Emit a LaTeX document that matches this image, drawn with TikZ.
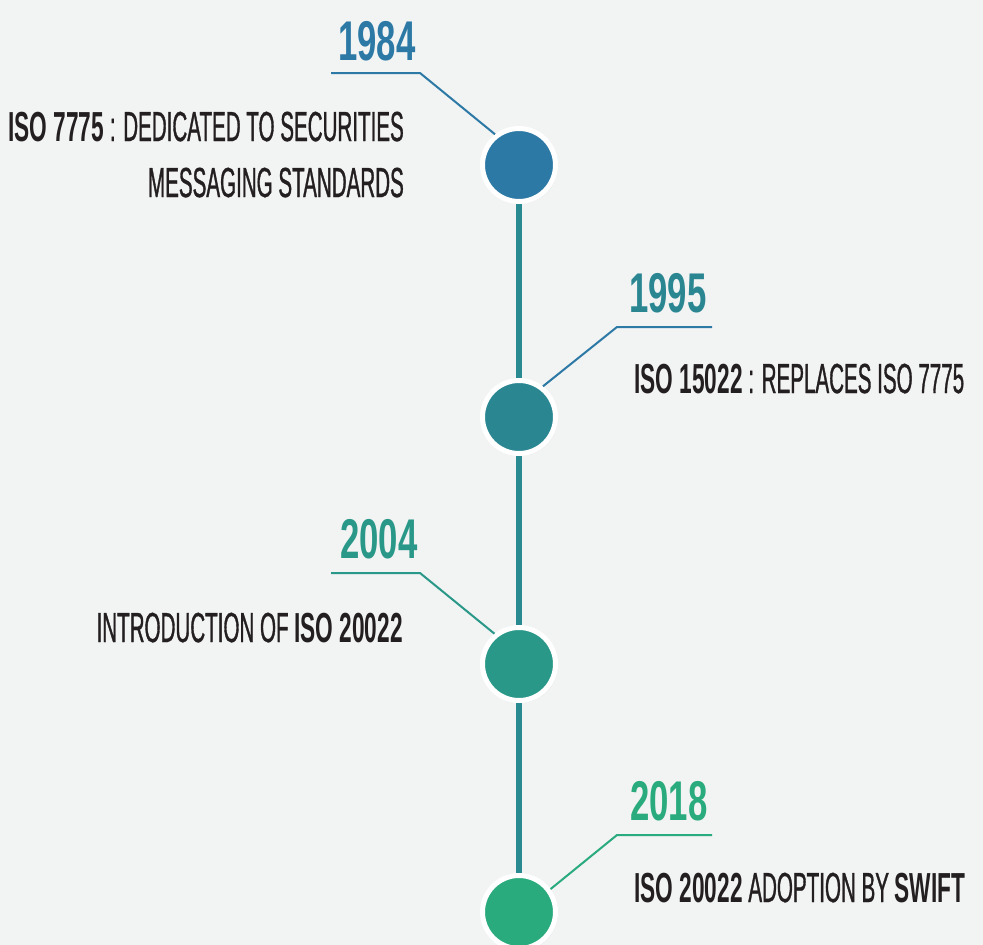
\documentclass[tikz,border=0pt]{standalone}
\usepackage{fontspec}
\setmainfont{Liberation Sans}[UprightFeatures={FakeStretch=0.49, FakeBold=0.8},
	BoldFeatures={FakeStretch=0.54}]
\newfontfamily\yearfont{Liberation Sans}[FakeStretch=0.62]
\usetikzlibrary{positioning,shadows}
\definecolor{bg}{HTML}{F2F3F3}
\definecolor{ink}{HTML}{231F20}
\definecolor{spine}{HTML}{2A8A92}
\definecolor{c1984}{HTML}{2C79A5}
\definecolor{c1995}{HTML}{2A8792}
\definecolor{c2004}{HTML}{2A9888}
\definecolor{c2018}{HTML}{2AAB7E}
\tikzset{
	tl_dot/.style = {circle, draw=white, line width=5pt, minimum size=73pt,
		inner sep=0pt, drop shadow={opacity=0.12, shadow xshift=2pt,
		shadow yshift=-2pt}},% point de la frise
	tl_year/.style = {inner sep=0pt, anchor=base,
		font=\yearfont\bfseries\fontsize{56}{56}\selectfont},% annee
	tl_text/.style = {inner sep=0pt, text=ink,
		font=\fontsize{42}{56}\selectfont},% texte
	tl_lead/.style = {line width=2pt},% trait vers le point
	tl_spine/.style = {line width=6pt, draw=spine}% axe vertical
}
\begin{document}
\begin{tikzpicture}[x=1pt,y=-1pt]
\fill[bg] (0,0) rectangle (983,945);
\clip (0,0) rectangle (983,945);
\useasboundingbox (0,0) rectangle (983,945);
% axe
\coordinate (bottom) at (519,990);
\draw[tl_spine] (519,165) -- (bottom);
% points
\node[tl_dot, fill=c1984] (d1984) at (519,165) {};
\node[tl_dot, fill=c1995] (d1995) at (519,417) {};
\node[tl_dot, fill=c2004] (d2004) at (519,664) {};
\node[tl_dot, fill=c2018] (d2018) at (519,912) {};
% traits
\coordinate (a1984) at (331,73);  \coordinate (b1984) at (420,73);
\coordinate (a1995) at (712,327); \coordinate (b1995) at (617,327);
\coordinate (a2004) at (331,573); \coordinate (b2004) at (420,573);
\coordinate (a2018) at (712,835); \coordinate (b2018) at (617,835);
\draw[tl_lead, c1984] (a1984) -- (b1984) -- (d1984.128);
\draw[tl_lead, c1984] (a1995) -- (b1995) -- (d1995.52);
\draw[tl_lead, c2004] (a2004) -- (b2004) -- (d2004.129);
\draw[tl_lead, c2018] (a2018) -- (b2018) -- (d2018.36);
% annees
\node[tl_year, text=c1984] (y1984) at (377,60) {1984};
\node[tl_year, text=c1995] (y1995) at (668,312) {1995};
\node[tl_year, text=c2004] (y2004) at (379,558) {2004};
\node[tl_year, text=c2018] (y2018) at (669,820) {2018};
% textes
\node[tl_text, anchor=base east, align=right] (t1984) at (404,197)
	{\textbf{ISO 7775} : DEDICATED TO SECURITIES\\MESSAGING STANDARDS};
\node[tl_text, anchor=base west] (t1995) at (634,393)
	{\textbf{ISO 15022} : REPLACES ISO 7775};
\node[tl_text, anchor=base east] (t2004) at (403,642)
	{INTRODUCTION OF \textbf{ISO 20022}};
\node[tl_text, anchor=base west] (t2018) at (634,902)
	{\textbf{ISO 20022} ADOPTION BY \textbf{SWIFT}};
\end{tikzpicture}
\end{document}
